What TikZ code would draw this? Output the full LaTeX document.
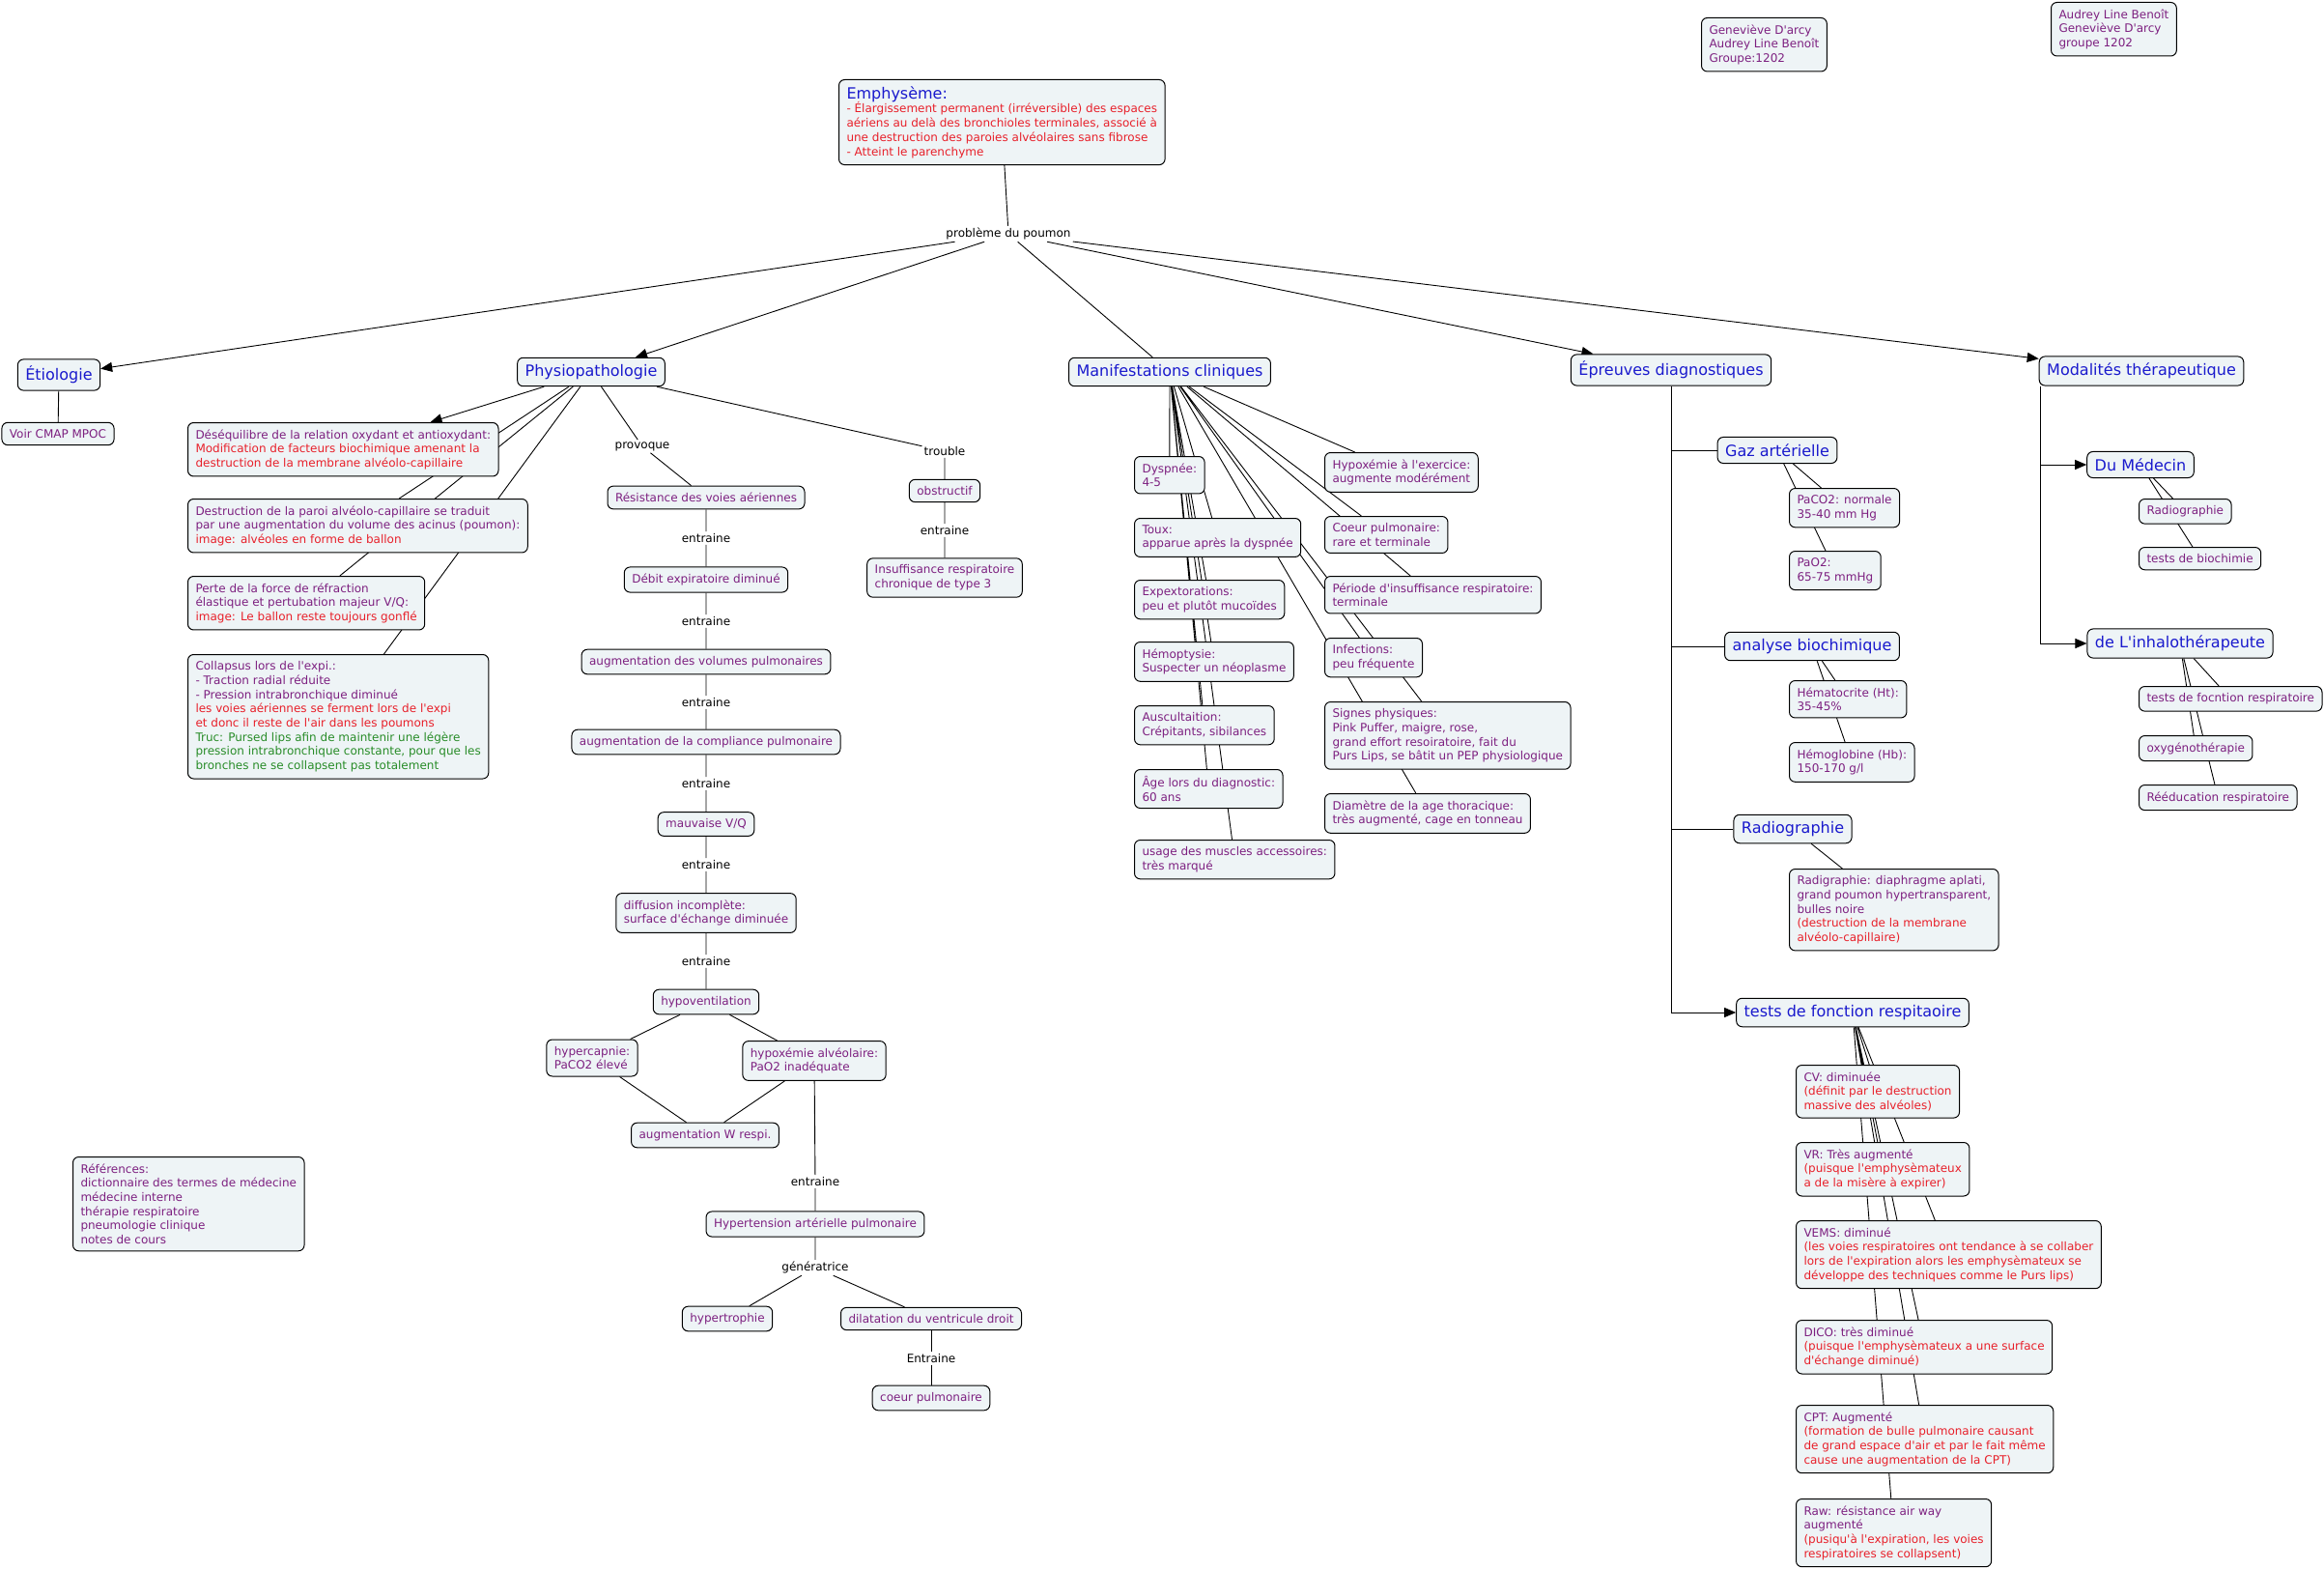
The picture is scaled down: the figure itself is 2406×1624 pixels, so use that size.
\documentclass[tikz,border=0pt]{standalone}
\usepackage{fontspec}
\setmainfont{DejaVu Sans}[Ligatures=TeXOff]
\usetikzlibrary{arrows.meta,backgrounds}
\definecolor{cmapfill}{RGB}{238,244,246}
\definecolor{cmappurple}{RGB}{125,32,128}
\definecolor{cmapblue}{RGB}{26,26,205}
\definecolor{cmapred}{RGB}{232,32,42}
\definecolor{cmapgreen}{RGB}{40,140,40}
\newcommand\fsnorm{\fontsize{12}{14.7}\selectfont}
\newcommand\fshead{\fontsize{16}{19}\selectfont}
\newcommand\rouge[1]{\textcolor{cmapred}{#1}}
\newcommand\verdtxt[1]{\textcolor{cmapgreen}{#1}}
\tikzset{
  concept/.style={draw, line width=1pt, rounded corners=6pt, fill=cmapfill,
    text=cmappurple, font=\fsnorm, align=left, inner xsep=8pt, inner ysep=7pt},
  headconcept/.style={concept, font=\fshead, text=cmapblue},
  linkword/.style={font=\fsnorm, text=black, inner sep=2pt},
  link/.style={line width=0.9pt},
  arrowlink/.style={link, -{Triangle[length=12pt,width=10pt]}}
}
\begin{document}
\begin{tikzpicture}[x=1pt,y=-1pt]
\useasboundingbox (0,0) rectangle (2406,1624);
% titre et auteurs
\node[concept,anchor=north west] (emph) at (868,82) {{\fshead\color{cmapblue}Emphysème:}\\
  \rouge{- Élargissement permanent (irréversible) des espaces}\\
  \rouge{aériens au delà des bronchioles terminales, associé à}\\
  \rouge{une destruction des paroies alvéolaires sans fibrose}\\
  \rouge{- Atteint le parenchyme}};
\node[concept,anchor=north west] (auteurs) at (1761,18) {Geneviève D'arcy\\Audrey Line Benoît\\Groupe:1202};
\node[concept,anchor=north west] (auteursbis) at (2123,2) {Audrey Line Benoît\\Geneviève D'arcy\\groupe 1202};
\node[linkword] (probleme) at (1044,242) {problème du poumon};
% grandes branches
\node[headconcept] (etio) at (61,388) {Étiologie};
\node[headconcept] (physio) at (612,385) {Physiopathologie};
\node[headconcept] (manif) at (1211,385) {Manifestations cliniques};
\node[headconcept] (epreuves) at (1730,383) {Épreuves diagnostiques};
\node[headconcept] (modal) at (2217,384) {Modalités thérapeutique};
\node[concept] (voir) at (60,449) {Voir CMAP MPOC};
% physiopathologie
\node[concept,anchor=north west] (deseq) at (194,437) {Déséquilibre de la relation oxydant et antioxydant:\\
  \rouge{Modification de facteurs biochimique amenant la}\\
  \rouge{destruction de la membrane alvéolo-capillaire}};
\node[concept,anchor=north west] (destr) at (194,516) {Destruction de la paroi alvéolo-capillaire se traduit\\
  par une augmentation du volume des acinus (poumon):\\
  \rouge{image: alvéoles en forme de ballon}};
\node[concept,anchor=north west] (perte) at (194,596) {Perte de la force de réfraction\\
  élastique et pertubation majeur V/Q:\\
  \rouge{image: Le ballon reste toujours gonflé}};
\node[concept,anchor=north west] (collap) at (194,677) {Collapsus lors de l'expi.:\\
  - Traction radial réduite\\
  - Pression intrabronchique diminué\\
  \rouge{les voies aériennes se ferment lors de l'expi}\\
  \rouge{et donc il reste de l'air dans les poumons}\\
  \verdtxt{Truc: Pursed lips afin de maintenir une légère}\\
  \verdtxt{pression intrabronchique constante, pour que les}\\
  \verdtxt{bronches ne se collapsent pas totalement}};
\node[linkword] (provoque) at (665,462) {provoque};
\node[concept] (resist) at (731,515) {Résistance des voies aériennes};
\node[linkword] (ent1) at (731,557) {entraine};
\node[concept] (debit) at (731,600) {Débit expiratoire diminué};
\node[linkword] (ent2) at (731,643) {entraine};
\node[concept] (augvol) at (731,685) {augmentation des volumes pulmonaires};
\node[linkword] (ent3) at (731,727) {entraine};
\node[concept] (compl) at (731,768) {augmentation de la compliance pulmonaire};
\node[linkword] (ent4) at (731,811) {entraine};
\node[concept] (mauvvq) at (731,853) {mauvaise V/Q};
\node[linkword] (ent5) at (731,895) {entraine};
\node[concept] (diffus) at (731,945) {diffusion incomplète:\\surface d'échange diminuée};
\node[linkword] (ent6) at (731,995) {entraine};
\node[concept] (hypov) at (731,1037) {hypoventilation};
\node[concept] (hypercap) at (613,1095) {hypercapnie:\\PaCO2 élevé};
\node[concept] (hypox) at (843,1098) {hypoxémie alvéolaire:\\PaO2 inadéquate};
\node[concept] (augw) at (730,1175) {augmentation W respi.};
\node[linkword] (ent7) at (844,1223) {entraine};
\node[concept] (hta) at (844,1267) {Hypertension artérielle pulmonaire};
\node[linkword] (gener) at (844,1312) {génératrice};
\node[concept] (hypertr) at (753,1365) {hypertrophie};
\node[concept] (dilat) at (964,1365) {dilatation du ventricule droit};
\node[linkword] (ent8) at (964,1406) {Entraine};
\node[concept] (coeurp) at (964,1447) {coeur pulmonaire};
\node[linkword] (trouble) at (978,467) {trouble};
\node[concept] (obstr) at (978,508) {obstructif};
\node[linkword] (ent9) at (978,549) {entraine};
\node[concept] (insuff) at (978,598) {Insuffisance respiratoire\\chronique de type 3};
% manifestations cliniques
\node[concept,anchor=north west] (dysp) at (1174,472) {Dyspnée:\\4-5};
\node[concept,anchor=north west] (toux) at (1174,536) {Toux:\\apparue après la dyspnée};
\node[concept,anchor=north west] (expect) at (1174,600) {Expextorations:\\peu et plutôt mucoïdes};
\node[concept,anchor=north west] (hemopt) at (1174,664) {Hémoptysie:\\Suspecter un néoplasme};
\node[concept,anchor=north west] (auscul) at (1174,730) {Auscultaition:\\Crépitants, sibilances};
\node[concept,anchor=north west] (age) at (1174,796) {Âge lors du diagnostic:\\60 ans};
\node[concept,anchor=north west] (muscles) at (1174,869) {usage des muscles accessoires:\\très marqué};
\node[concept,anchor=north west] (hypoxex) at (1371,468) {Hypoxémie à l'exercice:\\augmente modérément};
\node[concept,anchor=north west] (coeurm) at (1371,534) {Coeur pulmonaire:\\rare et terminale};
\node[concept,anchor=north west] (periode) at (1371,596) {Période d'insuffisance respiratoire:\\terminale};
\node[concept,anchor=north west] (infect) at (1371,660) {Infections:\\peu fréquente};
\node[concept,anchor=north west] (signes) at (1371,726) {Signes physiques:\\Pink Puffer, maigre, rose,\\grand effort resoiratoire, fait du\\Purs Lips, se bâtit un PEP physiologique};
\node[concept,anchor=north west] (diam) at (1371,821) {Diamètre de la age thoracique:\\très augmenté, cage en tonneau};
% epreuves diagnostiques
\node[headconcept] (gaz) at (1840,466) {Gaz artérielle};
\node[concept,anchor=north west] (paco) at (1852,505) {PaCO2: normale\\35-40 mm Hg};
\node[concept,anchor=north west] (pao) at (1852,570) {PaO2:\\65-75 mmHg};
\node[headconcept] (analyse) at (1876,669) {analyse biochimique};
\node[concept,anchor=north west] (hemat) at (1852,704) {Hématocrite (Ht):\\35-45\%};
\node[concept,anchor=north west] (hemog) at (1852,768) {Hémoglobine (Hb):\\150-170 g/l};
\node[headconcept] (radio) at (1856,858) {Radiographie};
\node[concept,anchor=north west] (radiotxt) at (1852,899) {Radigraphie: diaphragme aplati,\\grand poumon hypertransparent,\\bulles noire\\
  \rouge{(destruction de la membrane}\\\rouge{alvéolo-capillaire)}};
\node[headconcept] (tests) at (1918,1048) {tests de fonction respitaoire};
\node[concept,anchor=north west] (cv) at (1859,1102) {CV: diminuée\\\rouge{(définit par le destruction}\\\rouge{massive des alvéoles)}};
\node[concept,anchor=north west] (vr) at (1859,1182) {VR: Très augmenté\\\rouge{(puisque l'emphysèmateux}\\\rouge{a de la misère à expirer)}};
\node[concept,anchor=north west] (vems) at (1859,1263) {VEMS: diminué\\\rouge{(les voies respiratoires ont tendance à se collaber}\\
  \rouge{lors de l'expiration alors les emphysèmateux se}\\\rouge{développe des techniques comme le Purs lips)}};
\node[concept,anchor=north west] (dico) at (1859,1366) {DICO: très diminué\\\rouge{(puisque l'emphysèmateux a une surface}\\\rouge{d'échange diminué)}};
\node[concept,anchor=north west] (cpt) at (1859,1454) {CPT: Augmenté\\\rouge{(formation de bulle pulmonaire causant}\\
  \rouge{de grand espace d'air et par le fait même}\\\rouge{cause une augmentation de la CPT)}};
\node[concept,anchor=north west] (raw) at (1859,1551) {Raw: résistance air way\\augmenté\\
  \rouge{(pusiqu'à l'expiration, les voies}\\\rouge{respiratoires se collapsent)}};
% modalites therapeutiques
\node[headconcept] (medecin) at (2216,481) {Du Médecin};
\node[concept,anchor=north west] (radiomed) at (2214,516) {Radiographie};
\node[concept,anchor=north west] (biochim) at (2214,566) {tests de biochimie};
\node[headconcept] (inhalo) at (2257,666) {de L'inhalothérapeute};
\node[concept,anchor=north west] (testresp) at (2214,710) {tests de focntion respiratoire};
\node[concept,anchor=north west] (oxygeno) at (2214,761) {oxygénothérapie};
\node[concept,anchor=north west] (reeduc) at (2214,812) {Rééducation respiratoire};
% references
\node[concept,anchor=north west] (refs) at (75,1197) {Références:\\dictionnaire des termes de médecine\\médecine interne\\thérapie respiratoire\\pneumologie clinique\\notes de cours};
% liens
\begin{scope}[on background layer]
\draw[link] (emph) -- (probleme) (probleme) -- (manif) (etio) -- (voir);
\draw[arrowlink] (probleme) -- (etio);
\draw[arrowlink] (probleme) -- (physio);
\draw[arrowlink] (probleme) -- (epreuves);
\draw[arrowlink] (probleme) -- (modal);
\draw[arrowlink] (physio) -- (deseq);
\draw[link] (physio) -- (destr) (physio) -- (perte) (physio) -- (collap);
\draw[link] (physio) -- (provoque) -- (resist) -- (ent1) -- (debit) -- (ent2) -- (augvol)
  -- (ent3) -- (compl) -- (ent4) -- (mauvvq) -- (ent5) -- (diffus) -- (ent6) -- (hypov);
\draw[link] (hypov) -- (hypercap) (hypov) -- (hypox) (hypercap) -- (augw) (hypox) -- (augw);
\draw[link] (hypox) -- (ent7) -- (hta) -- (gener) (gener) -- (hypertr) (gener) -- (dilat);
\draw[link] (dilat) -- (ent8) -- (coeurp);
\draw[link] (physio) -- (trouble) -- (obstr) -- (ent9) -- (insuff);
\draw[link] (manif) -- (dysp) (manif) -- (toux) (manif) -- (expect) (manif) -- (hemopt)
  (manif) -- (auscul) (manif) -- (age) (manif) -- (muscles);
\draw[link] (manif) -- (hypoxex) (manif) -- (coeurm) (manif) -- (periode) (manif) -- (infect)
  (manif) -- (signes) (manif) -- (diam);
\draw[link] (epreuves) |- (gaz) (epreuves) |- (analyse) (epreuves) |- (radio);
\draw[arrowlink] (epreuves) |- (tests);
\draw[link] (gaz) -- (paco) (gaz) -- (pao) (analyse) -- (hemat) (analyse) -- (hemog) (radio) -- (radiotxt);
\draw[link] (tests) -- (cv) (tests) -- (vr) (tests) -- (vems) (tests) -- (dico) (tests) -- (cpt) (tests) -- (raw);
\draw[arrowlink] ([xshift=2pt]modal.south west) |- (medecin);
\draw[arrowlink] ([xshift=2pt]modal.south west) |- (inhalo);
\draw[link] (medecin) -- (radiomed) (medecin) -- (biochim);
\draw[link] (inhalo) -- (testresp) (inhalo) -- (oxygeno) (inhalo) -- (reeduc);
\end{scope}
\end{tikzpicture}
\end{document}
